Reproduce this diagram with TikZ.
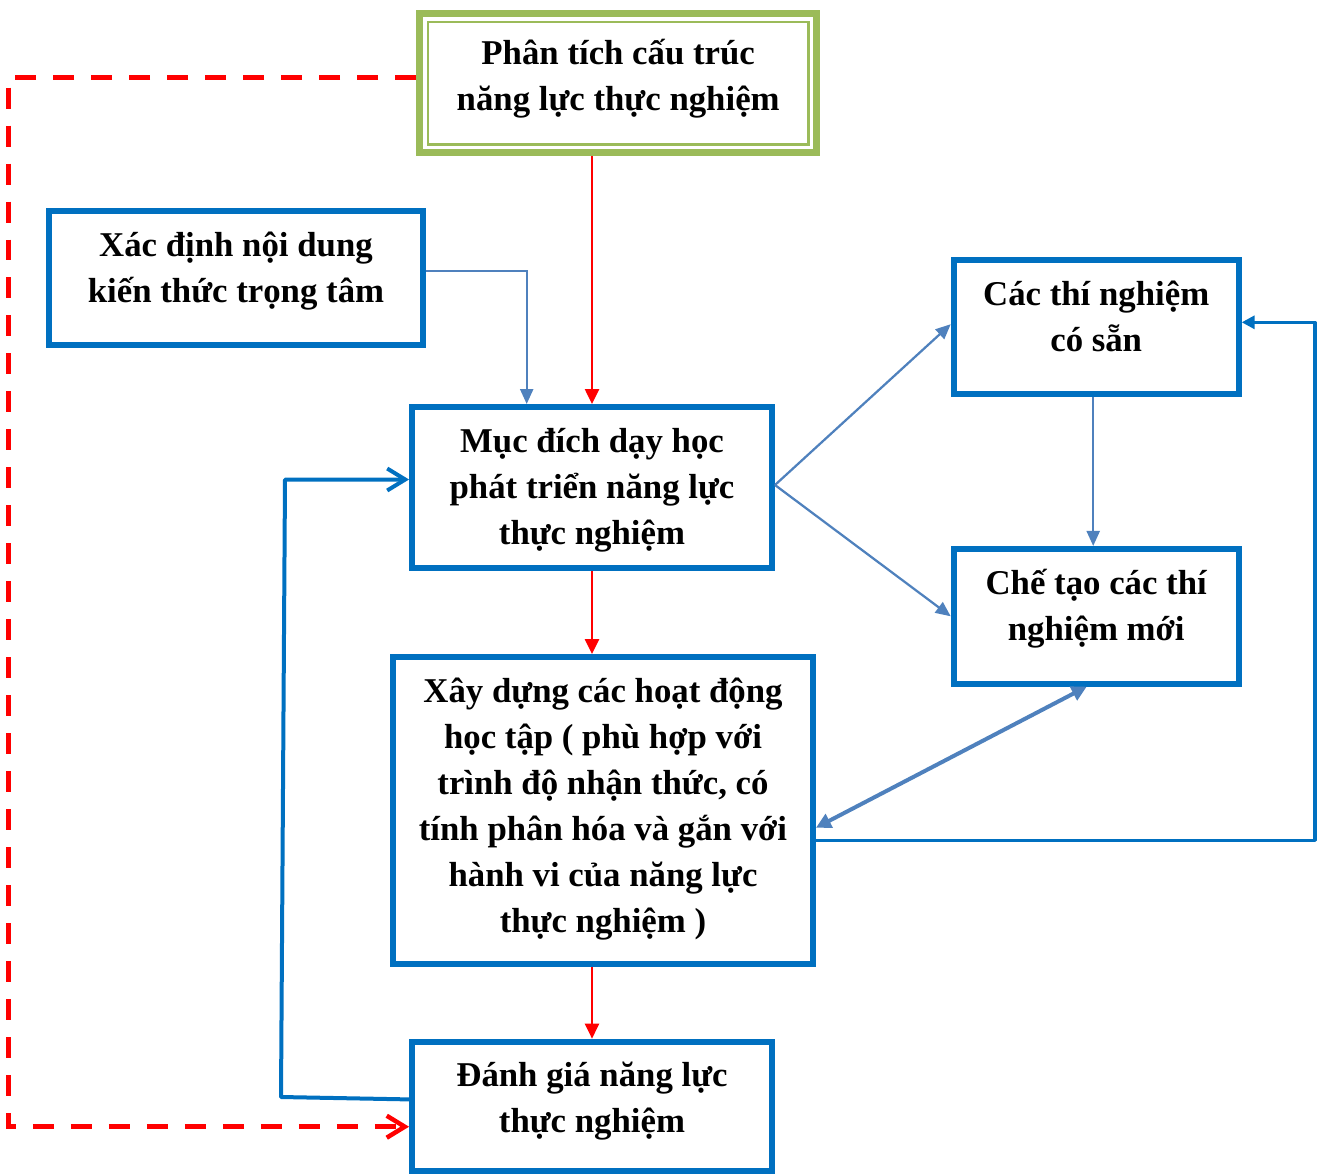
\documentclass[tikz,border=0pt]{standalone}
\usepackage{fontspec}
\setmainfont{Liberation Serif}
\usetikzlibrary{arrows.meta}
\definecolor{boxblue}{HTML}{0070C0}
\definecolor{leafgreen}{HTML}{9BBB59}
\definecolor{steel}{HTML}{4F81BD}
\definecolor{pureRed}{HTML}{FF0000}
\begin{document}
\begin{tikzpicture}[x=0.02cm,y=-0.02cm,
  box/.style={draw=boxblue, line width=0.12cm, rectangle, inner sep=0pt},
  greenbox/.style={draw=leafgreen, line width=0.14cm, rectangle, inner sep=0pt},
  txt/.style={align=center, font=\fontsize{19.8pt}{26.2pt}\selectfont\bfseries, inner sep=0pt},
  steelarr/.style={draw=steel, line width=0.045cm, -{Triangle[length=0.3cm,width=0.26cm]}},
  dblarr/.style={draw=steel, line width=0.08cm, {Triangle[length=0.3cm,width=0.3cm]}-{Triangle[length=0.3cm,width=0.3cm]}},
  redarr/.style={draw=pureRed, line width=0.05cm, -{Triangle[length=0.3cm,width=0.28cm]}},
  reddash/.style={draw=pureRed, line width=0.09cm, dash pattern=on 0.42cm off 0.34cm, -{Straight Barb[length=0.36cm,width=0.44cm]}},
  looparr/.style={draw=boxblue, line width=0.065cm, line join=round, -{Triangle[length=0.26cm,width=0.26cm]}},
  backarr/.style={draw=boxblue, line width=0.08cm, line join=round, -{Straight Barb[length=0.36cm,width=0.44cm]}}
]
\useasboundingbox (0,0) rectangle (1325,1174);

% boxes
\node[greenbox, minimum width=7.95cm, minimum height=2.8cm] (top) at (618.2,83) {};
\draw[draw=leafgreen, line width=0.054cm] ([shift={(12,12.5)}]top.north west) rectangle ([shift={(-12,-12)}]top.south east);
\node[txt] (topt) at (618.2,78) {\strut Phân tích cấu trúc\\\strut năng lực thực nghiệm};

\node[box, minimum width=7.48cm, minimum height=2.68cm] (xac) at (236,277.7) {};
\node[txt] (xact) at (236,270) {\strut Xác định nội dung\\\strut kiến thức trọng tâm};

\node[box, minimum width=7.2cm, minimum height=3.22cm] (muc) at (592,487.5) {};
\node[txt] (muct) at (592,489) {\strut Mục đích dạy học\\\strut phát triển năng lực\\\strut thực nghiệm};

\node[box, minimum width=5.7cm, minimum height=2.68cm] (cac) at (1096.2,326.7) {};
\node[txt] (cact) at (1096.2,319) {\strut Các thí nghiệm\\\strut có sẵn};

\node[box, minimum width=5.7cm, minimum height=2.694cm] (che) at (1096.2,616.3) {};
\node[txt] (chet) at (1096.2,608) {\strut Chế tạo các thí\\\strut nghiệm mới};

\node[box, minimum width=8.4cm, minimum height=6.14cm] (xay) at (603,810.5) {};
\node[txt] (xayt) at (603,808) {\strut Xây dựng các hoạt động\\\strut học tập ( phù hợp với\\\strut trình độ nhận thức, có\\\strut tính phân hóa và gắn với\\\strut hành vi của năng lực\\\strut thực nghiệm )};

\node[box, minimum width=7.2cm, minimum height=2.59cm] (danh) at (592,1106.4) {};
\node[txt] (danht) at (592,1100) {\strut Đánh giá năng lực\\\strut thực nghiệm};

% helper coordinates
\coordinate (c1) at (526.7,271);
\coordinate (r1) at (1315,840.3);
\coordinate (r2) at (1315,322.3);
\coordinate (l1) at (281,1097);
\coordinate (l2) at (285,479.5);
\coordinate (d1) at (8.3,77.3);
\coordinate (d2) at (8.3,1126.7);

% connectors
\draw[redarr] (top.south -| muc.north) -- (muc.north);
\draw[steelarr] (xac.east |- c1) -- (c1) -- (c1 |- muc.north);
\draw[redarr] (muc.south) -- (muc.south |- xay.north);
\draw[redarr] (xay.south -| danh.north) -- (danh.north);
\draw[steelarr] ([yshift=0.05cm]muc.east) -- ([yshift=0.05cm]cac.west);
\draw[steelarr] ([yshift=0.05cm]muc.east) -- (che.west);
\draw[steelarr] ([xshift=-0.06cm]cac.south) -- ([xshift=-0.06cm]che.north);
\draw[dblarr] ([xshift=-0.19cm]che.south) -- ([yshift=-0.344cm]xay.east);
\draw[looparr] (xay.east |- r1) -- (r1) -- (r2) -- (r2 -| cac.east);
\draw[backarr] ([yshift=0.14cm]danh.west) -- (l1) -- (l2) -- (l2 -| muc.west);
\draw[reddash] (top.west |- d1) -- (d1) -- (d2) -- (d2 -| danh.west);
\end{tikzpicture}
\end{document}
